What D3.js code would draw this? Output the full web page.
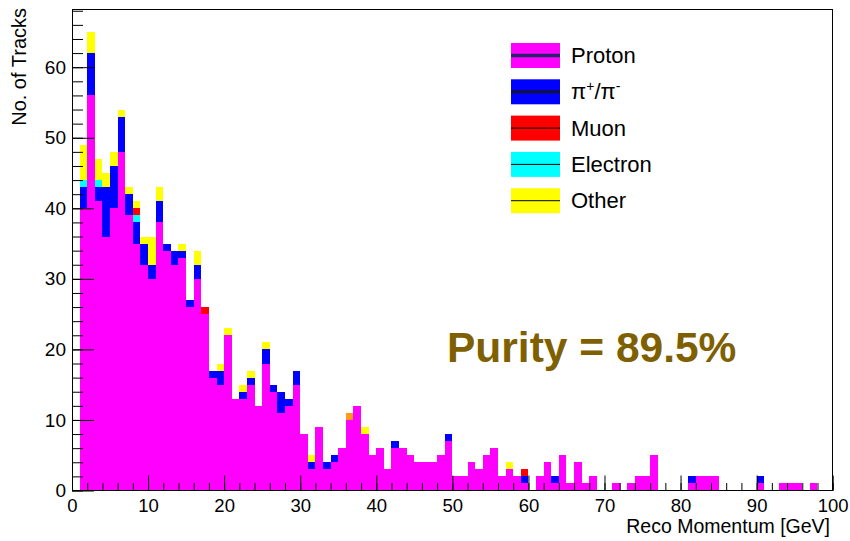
<!DOCTYPE html>
<html>
<head>
<meta charset="utf-8">
<script src="https://cdn.jsdelivr.net/npm/d3@7"></script>
<style>
  body { margin: 0; background: #fff; }
  svg { display: block; }
  text { font-family: "Liberation Sans", Arial, Helvetica, sans-serif; fill: #000; }
</style>
</head>
<body>
<svg id="chart" width="850" height="541"></svg>
<script>
// Reconstructed momentum, 1 GeV bins from 0 to 100 GeV (lower bin edges)
const binLowEdges = d3.range(0, 100);

// Track counts per bin for each true particle species
const proton = [
  0, 40, 56, 41, 36, 40, 48, 39, 35, 32,
  30, 38, 34, 32, 33, 26, 30, 25, 16, 15,
  22, 13, 13, 15, 12, 18, 14, 11, 12, 15,
  8, 3, 9, 3, 4, 6, 10, 12, 8, 5,
  6, 3, 6, 6, 5, 4, 4, 4, 5, 7,
  2, 2, 4, 3, 5, 6, 2, 3, 2, 1,
  0, 2, 4, 1, 5, 1, 4, 1, 2, 0,
  0, 1, 0, 1, 2, 2, 5, 0, 0, 0,
  0, 1, 2, 2, 2, 0, 0, 0, 0, 0,
  1, 0, 0, 1, 1, 1, 0, 1, 0, 0
];
const pion = [
  0, 3, 6, 2, 7, 6, 5, 3, 3, 3,
  2, 3, 1, 2, 1, 1, 2, 0, 1, 2,
  0, 0, 1, 1, 0, 2, 1, 3, 1, 2,
  0, 1, 0, 1, 1, 0, 0, 0, 0, 0,
  0, 0, 1, 0, 0, 0, 0, 0, 0, 1,
  0, 0, 0, 0, 0, 0, 0, 0, 0, 1,
  0, 0, 0, 1, 0, 0, 0, 0, 0, 0,
  0, 0, 0, 0, 0, 0, 0, 0, 0, 0,
  0, 1, 0, 0, 0, 0, 0, 0, 0, 0,
  1, 0, 0, 0, 0, 0, 0, 0, 0, 0
];
const electron = [
  0, 1, 0, 1, 0, 0, 0, 0, 1, 0,
  0, 0, 0, 0, 0, 0, 0, 0, 0, 0,
  0, 0, 0, 0, 0, 0, 0, 0, 0, 0,
  0, 0, 0, 0, 0, 0, 0, 0, 0, 0,
  0, 0, 0, 0, 0, 0, 0, 0, 0, 0,
  0, 0, 0, 0, 0, 0, 0, 0, 0, 0,
  0, 0, 0, 0, 0, 0, 0, 0, 0, 0,
  0, 0, 0, 0, 0, 0, 0, 0, 0, 0,
  0, 0, 0, 0, 0, 0, 0, 0, 0, 0,
  0, 0, 0, 0, 0, 0, 0, 0, 0, 0
];
const muon = [
  0, 0, 0, 0, 0, 0, 0, 0, 1, 0,
  0, 0, 0, 0, 0, 0, 0, 1, 0, 0,
  0, 0, 0, 0, 0, 0, 0, 0, 0, 0,
  0, 0, 0, 0, 0, 0, 0, 0, 0, 0,
  0, 0, 0, 0, 0, 0, 0, 0, 0, 0,
  0, 0, 0, 0, 0, 0, 0, 0, 0, 1,
  0, 0, 0, 0, 0, 0, 0, 0, 0, 0,
  0, 0, 0, 0, 0, 0, 0, 0, 0, 0,
  0, 0, 0, 0, 0, 0, 0, 0, 0, 0,
  0, 0, 0, 0, 0, 0, 0, 0, 0, 0
];
const kaon = [
  0, 0, 0, 0, 0, 0, 0, 0, 0, 0,
  0, 0, 0, 0, 0, 0, 0, 0, 0, 0,
  0, 0, 0, 0, 0, 0, 0, 0, 0, 0,
  0, 0, 0, 0, 0, 0, 1, 0, 0, 0,
  0, 0, 0, 0, 0, 0, 0, 0, 0, 0,
  0, 0, 0, 0, 0, 0, 0, 0, 0, 0,
  0, 0, 0, 0, 0, 0, 0, 0, 0, 0,
  0, 0, 0, 0, 0, 0, 0, 0, 0, 0,
  0, 0, 0, 0, 0, 0, 0, 0, 0, 0,
  0, 0, 0, 0, 0, 0, 0, 0, 0, 0
];
const other = [
  0, 5, 3, 3, 2, 2, 1, 1, 1, 1,
  4, 2, 0, 0, 1, 0, 2, 0, 0, 1,
  1, 0, 1, 1, 0, 1, 0, 0, 0, 0,
  0, 1, 0, 0, 0, 0, 0, 0, 1, 0,
  0, 0, 0, 0, 0, 0, 0, 0, 0, 0,
  0, 0, 0, 0, 0, 0, 0, 1, 0, 0,
  0, 0, 0, 0, 0, 0, 0, 0, 0, 0,
  0, 0, 0, 0, 0, 0, 0, 0, 0, 0,
  0, 0, 0, 0, 0, 0, 0, 0, 0, 0,
  0, 0, 0, 0, 0, 0, 0, 0, 0, 0
];

// Axis tick labels
const xTickLabels = [0, 10, 20, 30, 40, 50, 60, 70, 80, 90, 100];
const yTickLabels = [0, 10, 20, 30, 40, 50, 60];
const xTitle = "Reco Momentum [GeV]";
const yTitle = "No. of Tracks";
const purityText = "Purity = 89.5%";

// Stack layers, bottom to top, with their fill colours
const layers = [
  { key: "proton",   values: proton,   color: "#ff00ff" },
  { key: "pion",     values: pion,     color: "#0000ff" },
  { key: "electron", values: electron, color: "#00ffff" },
  { key: "muon",     values: muon,     color: "#ff0000" },
  { key: "kaon",     values: kaon,     color: "#ff9a1a" },
  { key: "other",    values: other,    color: "#ffff00" }
];

// Legend entries (drawn order) with their swatch styles
const legendEntries = [
  { key: "proton",   label: "Proton",   line: "#26246e", lineWidth: 3.5 },
  { key: "pion",     label: null,       line: "#101050", lineWidth: 3.5 },
  { key: "muon",     label: "Muon",     line: "#000",    lineWidth: 1 },
  { key: "electron", label: "Electron", line: "#000",    lineWidth: 1 },
  { key: "other",    label: "Other",    line: "#000",    lineWidth: 1 }
];

const table = binLowEdges.map((lo, i) => {
  const row = { lo };
  layers.forEach(l => { row[l.key] = l.values[i]; });
  return row;
});
const series = d3.stack().keys(layers.map(l => l.key))(table);
const colorOf = Object.fromEntries(layers.map(l => [l.key, l.color]));

const frame = { left: 72, right: 832.7, top: 9, bottom: 490.5 };
const totalMax = d3.max(series[series.length - 1], d => d[1]);

const x = d3.scaleLinear().domain([0, 100]).range([frame.left, frame.right]);
const y = d3.scaleLinear().domain([0, totalMax * 1.05]).range([frame.bottom, frame.top]);

const svg = d3.select("#chart");
svg.append("rect").attr("width", 850).attr("height", 541).attr("fill", "#fff");

// Stacked histogram bars
const barG = svg.append("g").attr("shape-rendering", "crispEdges");
series.forEach(s => {
  barG.append("g")
    .attr("fill", colorOf[s.key])
    .selectAll("rect")
    .data(s.filter(d => d[1] > d[0]))
    .join("rect")
    .attr("x", d => x(d.data.lo))
    .attr("width", d => x(d.data.lo + 1) - x(d.data.lo))
    .attr("y", d => y(d[1]))
    .attr("height", d => y(d[0]) - y(d[1]));
});

// Axes with inward-pointing ticks
const xMinor = d3.range(0, 101, 2);
const yMinor = d3.range(0, 69, 2);
const styleAxis = g => {
  g.select(".domain").remove();
  g.selectAll("line").attr("stroke", "#000").attr("stroke-width", 1);
  g.attr("font-family", null).attr("font-size", null);
};

svg.append("g")
  .attr("transform", `translate(0,${frame.bottom})`)
  .call(d3.axisBottom(x).tickValues(xMinor).tickSize(-7.5).tickFormat(""))
  .call(styleAxis);
svg.append("g")
  .attr("transform", `translate(0,${frame.bottom})`)
  .call(d3.axisBottom(x).tickValues(xTickLabels).tickSize(-15).tickPadding(8).tickFormat(d3.format("d")))
  .call(styleAxis)
  .selectAll("text").style("font-size", "18.5px");

svg.append("g")
  .attr("transform", `translate(${frame.left},0)`)
  .call(d3.axisLeft(y).tickValues(yMinor).tickSize(-11).tickFormat(""))
  .call(styleAxis);
svg.append("g")
  .attr("transform", `translate(${frame.left},0)`)
  .call(d3.axisLeft(y).tickValues(yTickLabels).tickSize(-22).tickPadding(6).tickFormat(d3.format("d")))
  .call(styleAxis)
  .selectAll("text").style("font-size", "19px");

// Frame
svg.append("rect")
  .attr("x", frame.left).attr("y", frame.top)
  .attr("width", frame.right - frame.left).attr("height", frame.bottom - frame.top)
  .attr("fill", "none").attr("stroke", "#000").attr("stroke-width", 1)
  .attr("shape-rendering", "crispEdges");

// Axis titles
svg.append("text")
  .attr("x", 830).attr("y", 533)
  .attr("text-anchor", "end")
  .style("font-size", "19.5px")
  .text(xTitle);
svg.append("text")
  .attr("transform", "translate(26,8) rotate(-90)")
  .attr("text-anchor", "end")
  .style("font-size", "20px")
  .text(yTitle);

// Legend
const legend = svg.append("g").attr("transform", "translate(511,43)");
const rowStep = 36.3, swW = 49, swH = 25;
legendEntries.forEach((e, i) => {
  const g = legend.append("g").attr("transform", `translate(0,${i * rowStep})`);
  g.append("rect").attr("width", swW).attr("height", swH).attr("fill", colorOf[e.key]);
  g.append("line")
    .attr("x1", 0).attr("x2", swW)
    .attr("y1", swH / 2).attr("y2", swH / 2)
    .attr("stroke", e.line).attr("stroke-width", e.lineWidth);
  const t = g.append("text")
    .attr("x", 60).attr("y", swH / 2 + 7.5)
    .style("font-size", "22px");
  if (e.label) {
    t.text(e.label);
  } else {
    t.append("tspan").text("\u03c0");
    t.append("tspan").attr("dy", -8).style("font-size", "14px").text("+");
    t.append("tspan").attr("dy", 8).text("/\u03c0");
    t.append("tspan").attr("dy", -8).style("font-size", "14px").text("-");
  }
});

// Purity annotation
svg.append("text")
  .attr("x", 447).attr("y", 362)
  .style("font-size", "42.5px")
  .style("font-weight", "bold")
  .style("fill", "#7f6000")
  .text(purityText);
</script>
</body>
</html>
